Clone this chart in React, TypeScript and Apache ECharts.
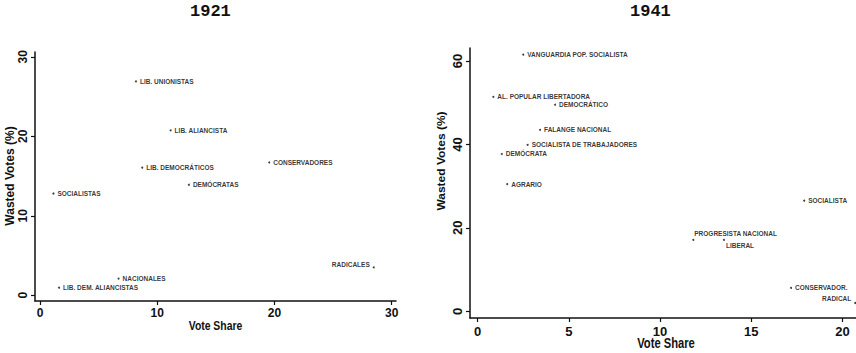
import React, { useEffect, useRef } from "react";
import * as echarts from "echarts";

const parties1921 = ["LIB. UNIONISTAS", "LIB. ALIANCISTA", "LIB. DEMOCRÁTICOS", "CONSERVADORES", "DEMÓCRATAS", "SOCIALISTAS", "RADICALES", "NACIONALES", "LIB. DEM. ALIANCISTAS"];
const vote1921 = [8.18, 11.14, 8.72, 19.55, 12.7, 1.14, 28.47, 6.7, 1.62];
const wasted1921 = [26.9, 20.75, 16.05, 16.7, 13.9, 12.8, 3.5, 2.1, 0.95];

const parties1941 = ["VANGUARDIA POP. SOCIALISTA", "AL. POPULAR LIBERTADORA", "DEMOCRÁTICO", "FALANGE NACIONAL", "SOCIALISTA DE TRABAJADORES", "DEMÓCRATA", "AGRARIO", "SOCIALISTA", "PROGRESISTA NACIONAL", "LIBERAL", "CONSERVADOR.", "RADICAL"];
const vote1941 = [2.5, 0.86, 4.24, 3.42, 2.74, 1.32, 1.62, 17.9, 11.82, 13.5, 17.18, 20.7];
const wasted1941 = [61.5, 51.4, 49.5, 43.5, 39.9, 37.7, 30.5, 26.5, 17.1, 17.1, 5.6, 2.0];

const xTicks1921 = [0, 10, 20, 30];
const yTicks1921 = [0, 10, 20, 30];
const xTicks1941 = [0, 5, 10, 15, 20];
const yTicks1941 = [0, 20, 40, 60];

const xTitle = "Vote Share";
const yTitle = "Wasted Votes (%)";

const labelTweaks: Record<string, any> = {
  RADICALES: { position: "left", offset: [0, -3] },
  "PROGRESISTA NACIONAL": { position: "right", offset: [-3, -6] },
  LIBERAL: { position: "right", offset: [-2, 6] },
  RADICAL: { position: "left", offset: [0, -4] },
};

const SANS = "'Liberation Sans', Arial, sans-serif";

function pts(names: string[], xs: number[], ys: number[]) {
  return names.map((n, i) => {
    const t = labelTweaks[n];
    const item: any = { name: n, value: [xs[i], ys[i]] };
    if (t) item.label = t;
    return item;
  });
}

function axisCommon(ticks: number[], fontSize: number, margin: number, rotate = 0) {
  return {
    axisLine: { show: true, onZero: false, lineStyle: { color: "#111", width: 1.5 } },
    axisTick: { show: true, inside: false, length: 4, customValues: ticks, lineStyle: { color: "#111", width: 1.2 } },
    axisLabel: {
      customValues: ticks,
      color: "#111",
      fontFamily: SANS,
      fontWeight: "bold",
      fontSize,
      margin,
      rotate,
    },
    splitLine: { show: false },
  };
}

function titleText(text: string, x: number, y: number, size: number, scaleX: number, vertical: boolean) {
  return {
    type: "text",
    x,
    y,
    rotation: vertical ? Math.PI / 2 : 0,
    scaleX: vertical ? 1 : scaleX,
    scaleY: vertical ? scaleX : 1,
    style: {
      text,
      fill: "#111",
      font: `bold ${size}px ${SANS}`,
      textAlign: "center",
      textVerticalAlign: "middle",
    },
  };
}

export default function App() {
  const ref = useRef<HTMLDivElement>(null);
  useEffect(() => {
    if (!ref.current) return;
    const chart = echarts.init(ref.current, undefined, { renderer: "svg" });
    const seriesLabel = {
      show: true,
      formatter: "{b}",
      position: "right",
      distance: 3,
      fontFamily: SANS,
      fontWeight: "bold",
      fontSize: 6.5,
      color: "#000",
    };
    const yearStyle = { fontFamily: "'Liberation Mono', monospace", fontWeight: "bold", fontSize: 17, color: "#111" };
    chart.setOption({
      animation: false,
      backgroundColor: "#fff",
      title: [
        { text: "1921", left: 190, top: 3, padding: 0, textStyle: yearStyle },
        { text: "1941", left: 630, top: 3, padding: 0, textStyle: yearStyle },
      ],
      graphic: [
        titleText(xTitle, 215.5, 325, 13, 0.8, false),
        titleText(xTitle, 666, 344, 14, 0.8, false),
        titleText(yTitle, 10, 176, 12, 1, true),
        titleText(yTitle, 441, 161, 12, 0.95, true),
      ],
      grid: [
        { left: 35, top: 52, width: 361, height: 249 },
        { left: 470, top: 48, width: 386, height: 270 },
      ],
      xAxis: [
        { type: "value", gridIndex: 0, min: -0.43, max: 30.37, ...axisCommon(xTicks1921, 12, 6) },
        { type: "value", gridIndex: 1, min: -0.42, max: 20.74, ...axisCommon(xTicks1941, 13, 7) },
      ],
      yAxis: [
        { type: "value", gridIndex: 0, min: -0.72, max: 30.6, ...axisCommon(yTicks1921, 12, 6, 90) },
        { type: "value", gridIndex: 1, min: -1.6, max: 63.1, ...axisCommon(yTicks1941, 13, 6, 90) },
      ],
      series: [
        {
          type: "scatter", xAxisIndex: 0, yAxisIndex: 0, symbol: "circle", symbolSize: 2,
          itemStyle: { color: "#111" }, label: seriesLabel,
          data: pts(parties1921, vote1921, wasted1921),
        },
        {
          type: "scatter", xAxisIndex: 1, yAxisIndex: 1, symbol: "circle", symbolSize: 2,
          itemStyle: { color: "#111" }, label: seriesLabel,
          data: pts(parties1941, vote1941, wasted1941),
        },
      ],
    });
    return () => chart.dispose();
  }, []);
  return <div ref={ref} style={{ position: "fixed", left: 0, top: 0, width: 856, height: 353 }} />;
}
